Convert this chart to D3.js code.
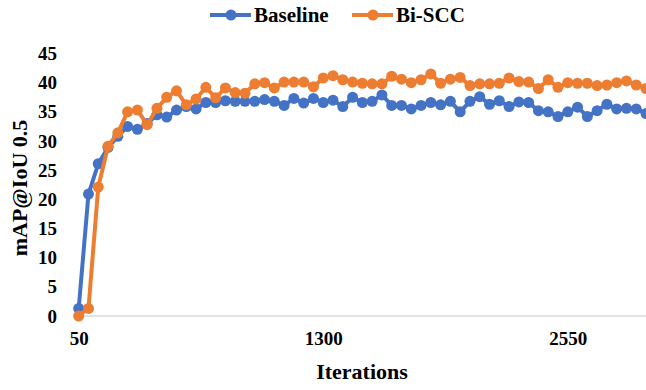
<!DOCTYPE html>
<html lang="en">
<head>
  <meta charset="UTF-8">
  <title>mAP chart</title>
  <script src="https://cdn.jsdelivr.net/npm/d3@7"></script>
  <style>
    body { margin: 0; background: #fff; }
    text { font-family: "Liberation Serif", "Times New Roman", serif; font-weight: bold; fill: #000; }
  </style>
</head>
<body>
  <div class="chart"></div>
  <script>
    // iterations 50, 100, ... 2950
    const iterations = d3.range(50, 3000, 50);
    const baseline = [1.3, 20.9, 26.1, 28.9, 30.8, 32.5, 32.0, 33.0, 34.5, 34.1,
      35.3, 35.9, 35.5, 36.6, 36.6, 36.9, 36.8, 36.8, 36.8, 37.1,
      36.8, 36.1, 37.3, 36.5, 37.3, 36.6, 37.0, 35.9, 37.5, 36.6,
      36.8, 37.9, 36.1, 36.1, 35.5, 36.1, 36.6, 36.2, 36.8, 35.0,
      36.8, 37.6, 36.3, 36.9, 35.9, 36.7, 36.6, 35.2, 35.0, 34.2,
      35.0, 35.8, 34.2, 35.2, 36.3, 35.5, 35.6, 35.5, 34.7];
    const biscc = [0.0, 1.3, 22.1, 29.1, 31.4, 35.0, 35.3, 32.8, 35.6, 37.5,
      38.6, 36.2, 37.2, 39.2, 37.4, 39.1, 38.3, 38.2, 39.8, 40.0,
      39.1, 40.1, 40.1, 40.1, 39.3, 40.8, 41.2, 40.5, 40.1, 39.9,
      39.8, 39.8, 41.1, 40.6, 40.0, 40.5, 41.5, 39.9, 40.6, 40.9,
      39.5, 39.8, 39.8, 39.9, 40.8, 40.2, 40.1, 39.0, 40.5, 39.2,
      40.0, 39.9, 39.9, 39.5, 39.6, 40.0, 40.3, 39.6, 39.0];
    const xTicks = [50, 1300, 2550];
    const yTicks = d3.range(0, 50, 5);
    const seriesNames = ["Baseline", "Bi-SCC"];
    const colors = ["#4472C4", "#ED7D31"];

    const width = 646, height = 390;
    const svg = d3.select(".chart").append("svg")
      .attr("width", width)
      .attr("height", height);

    const x = d3.scaleLinear().domain([50, 3000]).range([78.7, 655.8]);
    const y = d3.scaleLinear().domain([0, 45]).range([316, 53.5]);

    // x axis line
    svg.append("line")
      .attr("x1", x(50)).attr("x2", width)
      .attr("y1", y(0)).attr("y2", y(0))
      .attr("stroke", "#d9d9d9")
      .attr("stroke-width", 1.5);

    const xAxis = svg.append("g")
      .attr("transform", `translate(0,${y(0)})`)
      .call(d3.axisBottom(x).tickValues(xTicks).tickSize(0).tickPadding(16).tickFormat(d3.format("d")));
    xAxis.select(".domain").remove();
    xAxis.selectAll("text").style("font-size", "19px").attr("fill", "#000");

    const yAxis = svg.append("g")
      .attr("transform", "translate(57,0)")
      .call(d3.axisLeft(y).tickValues(yTicks).tickSize(0).tickPadding(0));
    yAxis.select(".domain").remove();
    yAxis.selectAll("text").style("font-size", "19px").attr("fill", "#000");

    svg.append("text")
      .attr("x", 362).attr("y", 379)
      .attr("text-anchor", "middle")
      .style("font-size", "22px")
      .text("Iterations");

    svg.append("text")
      .attr("transform", "translate(27,188) rotate(-90)")
      .attr("text-anchor", "middle")
      .style("font-size", "22px")
      .text("mAP@IoU 0.5");

    const line = d3.line()
      .x((d, i) => x(iterations[i]))
      .y(d => y(d));

    [baseline, biscc].forEach((vals, k) => {
      svg.append("path")
        .datum(vals)
        .attr("d", line)
        .attr("fill", "none")
        .attr("stroke", colors[k])
        .attr("stroke-width", 4)
        .attr("stroke-linejoin", "round");
      svg.append("g").selectAll("circle")
        .data(vals)
        .join("circle")
        .attr("cx", (d, i) => x(iterations[i]))
        .attr("cy", d => y(d))
        .attr("r", 5.5)
        .attr("fill", colors[k]);
    });

    // legend
    const legendX = [210, 352];
    seriesNames.forEach((name, k) => {
      const g = svg.append("g").attr("transform", `translate(${legendX[k]},15)`);
      g.append("line").attr("x1", 0).attr("x2", 41).attr("y1", 0).attr("y2", 0)
        .attr("stroke", colors[k]).attr("stroke-width", 4);
      g.append("circle").attr("cx", 21).attr("cy", 0).attr("r", 5.5).attr("fill", colors[k]);
      g.append("text").attr("x", 44).attr("y", 7)
        .style("font-size", "21px")
        .text(name);
    });
  </script>
</body>
</html>
